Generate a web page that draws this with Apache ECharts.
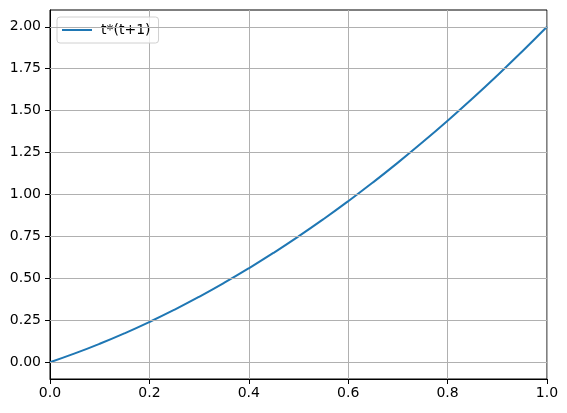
<!DOCTYPE html>
<html>
<head>
<meta charset="utf-8">
<script src="https://cdn.jsdelivr.net/npm/echarts@6/dist/echarts.min.js"></script>
<style>html,body{margin:0;padding:0;background:#fff}#c{width:567px;height:413px}</style>
</head>
<body>
<div id="c"></div>
<script>
const seriesName = 't*(t+1)';
const tValues = [0, 0.05, 0.1, 0.15, 0.2, 0.25, 0.3, 0.35, 0.4, 0.45, 0.5, 0.55, 0.6, 0.65, 0.7, 0.75, 0.8, 0.85, 0.9, 0.95, 1.0];
const yValues = [0, 0.0525, 0.11, 0.1725, 0.24, 0.3125, 0.39, 0.4725, 0.56, 0.6525, 0.75, 0.8525, 0.96, 1.0725, 1.19, 1.3125, 1.44, 1.5725, 1.71, 1.8525, 2.0];
const xTicks = [0, 0.2, 0.4, 0.6, 0.8, 1.0];
const yTicks = [0, 0.25, 0.5, 0.75, 1.0, 1.25, 1.5, 1.75, 2.0];

const font = 'DejaVu Sans';
const chart = echarts.init(document.getElementById('c'), null, {renderer: 'canvas'});
chart.setOption({
  animation: false,
  backgroundColor: '#fff',
  grid: {left: 50, right: 20, top: 10, bottom: 34, show: true, borderColor: '#000', borderWidth: 1, backgroundColor: 'transparent'},
  legend: {
    show: true, left: 57, top: 17, orient: 'vertical',
    data: [seriesName],
    itemWidth: 30, itemHeight: 2, itemGap: 5,
    padding: [6, 8, 6, 5],
    backgroundColor: 'rgba(255,255,255,0.8)',
    borderColor: '#d0d0d0', borderWidth: 1, borderRadius: 3,
    textStyle: {fontFamily: font, fontSize: 14, color: '#000', padding: [0, 0, 0, 4]},
    icon: 'rect'
  },
  xAxis: {
    type: 'value', min: 0, max: 1, interval: 0.2,
    axisLine: {show: true, onZero: false, lineStyle: {color: '#000', width: 1}},
    axisTick: {show: true, inside: false, length: 5, lineStyle: {color: '#000'}},
    axisLabel: {fontFamily: font, fontSize: 14, color: '#000', margin: 7, formatter: v => v.toFixed(1)},
    splitLine: {show: true, lineStyle: {color: '#b0b0b0', width: 1}}
  },
  yAxis: {
    type: 'value', min: -0.1, max: 2.1,
    axisLine: {show: true, onZero: false, lineStyle: {color: '#000', width: 1}},
    axisTick: {show: true, length: 5, customValues: yTicks, lineStyle: {color: '#000'}},
    axisLabel: {fontFamily: font, fontSize: 14, color: '#000', margin: 9, customValues: yTicks, formatter: v => v.toFixed(2), showMinLabel: true, showMaxLabel: true},
    splitLine: {show: false}
  },
  series: [
    {
      type: 'line', name: 'grid', data: [], z: 1, silent: true,
      markLine: {
        silent: true, symbol: 'none', label: {show: false}, animation: false,
        lineStyle: {color: '#b0b0b0', width: 1, type: 'solid'},
        data: yTicks.map(v => ({yAxis: v}))
      }
    },
    {
      type: 'line', name: seriesName, z: 3,
      data: tValues.map((t, i) => [t, yValues[i]]),
      showSymbol: false, smooth: true,
      lineStyle: {color: '#1f77b4', width: 2},
      itemStyle: {color: '#1f77b4'}
    }
  ]
});
</script>
</body>
</html>
